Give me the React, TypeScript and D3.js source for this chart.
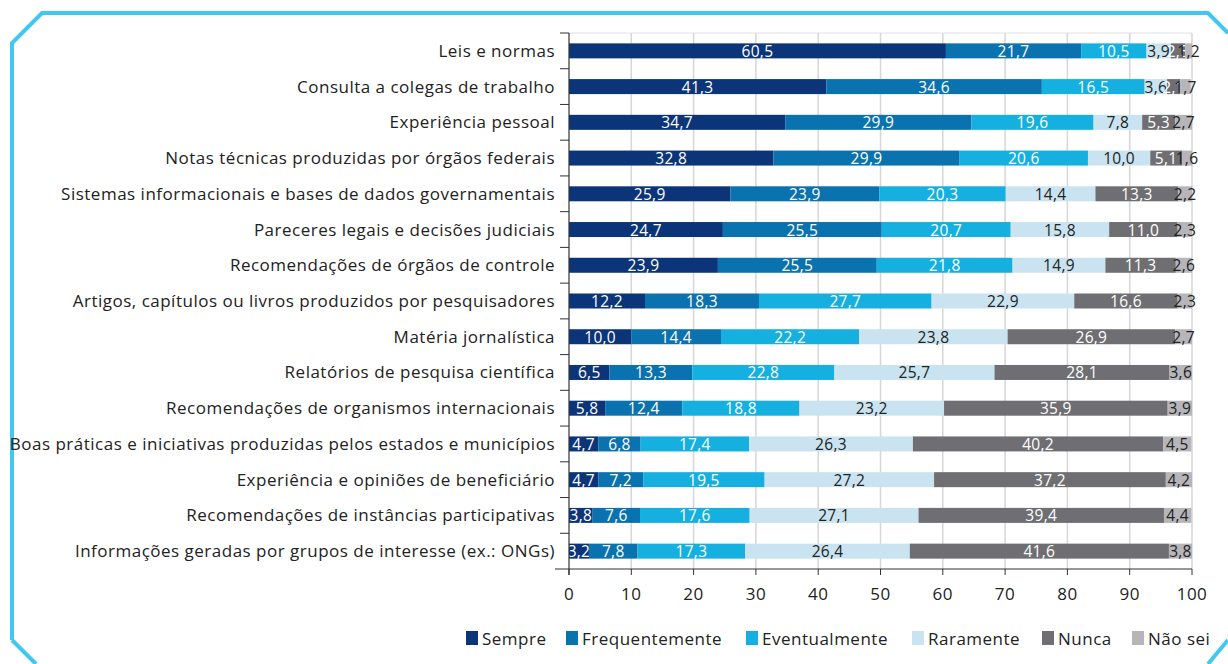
import React from "react";
import * as d3 from "d3";

const categories = [
  "Leis e normas",
  "Consulta a colegas de trabalho",
  "Experiência pessoal",
  "Notas técnicas produzidas por órgãos federais",
  "Sistemas informacionais e bases de dados governamentais",
  "Pareceres legais e decisões judiciais",
  "Recomendações de órgãos de controle",
  "Artigos, capítulos ou livros produzidos por pesquisadores",
  "Matéria jornalística",
  "Relatórios de pesquisa científica",
  "Recomendações de organismos internacionais",
  "Boas práticas e iniciativas produzidas pelos estados e municípios",
  "Experiência e opiniões de beneficiário",
  "Recomendações de instâncias participativas",
  "Informações geradas por grupos de interesse (ex.: ONGs)",
];

const seriesNames = ["Sempre", "Frequentemente", "Eventualmente", "Raramente", "Nunca", "Não sei"];

const sempre = [60.5, 41.3, 34.7, 32.8, 25.9, 24.7, 23.9, 12.2, 10.0, 6.5, 5.8, 4.7, 4.7, 3.8, 3.2];
const frequentemente = [21.7, 34.6, 29.9, 29.9, 23.9, 25.5, 25.5, 18.3, 14.4, 13.3, 12.4, 6.8, 7.2, 7.6, 7.8];
const eventualmente = [10.5, 16.5, 19.6, 20.6, 20.3, 20.7, 21.8, 27.7, 22.2, 22.8, 18.8, 17.4, 19.5, 17.6, 17.3];
const raramente = [3.9, 3.6, 7.8, 10.0, 14.4, 15.8, 14.9, 22.9, 23.8, 25.7, 23.2, 26.3, 27.2, 27.1, 26.4];
const nunca = [2.3, 2.1, 5.3, 5.1, 13.3, 11.0, 11.3, 16.6, 26.9, 28.1, 35.9, 40.2, 37.2, 39.4, 41.6];
const naoSei = [1.2, 1.7, 2.7, 1.6, 2.2, 2.3, 2.6, 2.3, 2.7, 3.6, 3.9, 4.5, 4.2, 4.4, 3.8];

const xTicks = [0, 10, 20, 30, 40, 50, 60, 70, 80, 90, 100];

const seriesValues = [sempre, frequentemente, eventualmente, raramente, nunca, naoSei];
const colors = ["#0b3479", "#0a72ae", "#15b0e0", "#c9e4f0", "#6f6f73", "#b6b6ba"];
const labelColors = ["#ffffff", "#ffffff", "#ffffff", "#222222", "#ffffff", "#222222"];

const legendX = [466, 566, 746, 912, 1042, 1132];

const FONT = "'Open Sans', 'Noto Sans', sans-serif";

export default function App() {
  const W = 1228;
  const H = 664;
  const x = d3.scaleLinear().domain([0, 100]).range([569, 1192]);
  const y = d3.scaleBand<string>().domain(categories).range([33, 569]).paddingInner(0.6).paddingOuter(0.3);
  const yOuter = d3.scaleBand<string>().domain(categories).range([33, 569]);
  const bh = 15;

  const fmt = (v: number) => v.toFixed(1).replace(".", ",");

  return (
    <svg width={W} height={H} style={{ position: "absolute", left: 0, top: 0, background: "#fff" }}>
      {/* border */}
      <path
        d="M12,640 L12,43 L42,13 L1208,13 L1228,33"
        fill="none"
        stroke="#41c8f2"
        strokeWidth={4}
      />
      <path d="M12,640 L36,664" fill="none" stroke="#41c8f2" strokeWidth={4} />
      <path d="M1228,640 L1208,664" fill="none" stroke="#41c8f2" strokeWidth={4} />

      {/* gridlines */}
      <line x1={569} x2={1192} y1={33} y2={33} stroke="#e0e0e0" strokeWidth={1} />
      {xTicks.slice(1).map((t) => (
        <line key={t} x1={x(t)} x2={x(t)} y1={33} y2={569} stroke="#d6d6d6" strokeWidth={1.5} />
      ))}

      {/* bars */}
      {categories.map((c, i) => {
        let acc = 0;
        const cy = (y(c) as number) + y.bandwidth() / 2;
        return (
          <g key={c}>
            {seriesValues.map((s, k) => {
              const v = s[i];
              const x0 = x(acc);
              acc += v;
              const x1 = x(Math.min(acc, 100));
              return (
                <g key={k}>
                  <rect x={x0} y={cy - bh / 2} width={Math.max(0, x1 - x0)} height={bh} fill={colors[k]} />
                  <text
                    x={(x0 + x1) / 2}
                    y={cy + 6}
                    textAnchor="middle"
                    fontFamily={FONT}
                    fontSize={15.5}
                    letterSpacing={0.3}
                    fill={labelColors[k]}
                  >
                    {fmt(v)}
                  </text>
                </g>
              );
            })}
            <text
              x={555}
              y={cy + 6}
              textAnchor="end"
              fontFamily={FONT}
              fontSize={17}
              letterSpacing={0.5}
              fill="#222"
            >
              {c}
            </text>
          </g>
        );
      })}

      {/* y axis */}
      <line x1={569} x2={569} y1={33} y2={575} stroke="#333" strokeWidth={1.2} />
      {categories.map((c) => (
        <line
          key={c}
          x1={560}
          x2={569}
          y1={yOuter(c) as number}
          y2={yOuter(c) as number}
          stroke="#333"
          strokeWidth={1}
        />
      ))}

      {/* x axis */}
      <line x1={555} x2={1192} y1={569} y2={569} stroke="#333" strokeWidth={1.2} />
      {xTicks.map((t) => (
        <g key={t}>
          <line x1={x(t)} x2={x(t)} y1={569} y2={575} stroke="#333" strokeWidth={1} />
          <text
            x={x(t)}
            y={600}
            textAnchor="middle"
            fontFamily={FONT}
            fontSize={17}
            letterSpacing={0.5}
            fill="#222"
          >
            {t}
          </text>
        </g>
      ))}

      {/* legend */}
      {seriesNames.map((n, k) => (
        <g key={n}>
          <rect x={legendX[k]} y={631} width={12} height={14} fill={colors[k]} />
          <text
            x={legendX[k] + 16}
            y={645}
            fontFamily={FONT}
            fontSize={17}
            letterSpacing={0.5}
            fill="#222"
          >
            {n}
          </text>
        </g>
      ))}
    </svg>
  );
}
